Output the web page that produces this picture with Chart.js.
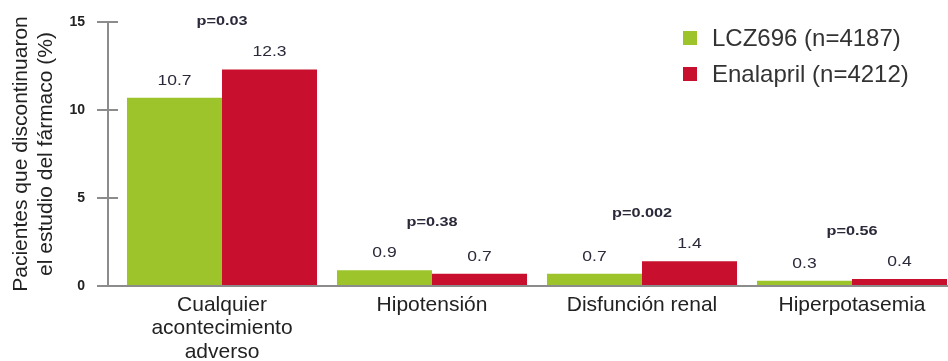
<!DOCTYPE html>
<html>
<head>
<meta charset="utf-8">
<script src="https://cdn.jsdelivr.net/npm/chart.js@4"></script>
<style>
  html, body { margin: 0; padding: 0; background: #fff; overflow: hidden; }
  #wrap { position: relative; width: 948px; height: 361px; overflow: hidden; }
  #legend { position: absolute; left: 683px; top: 20px; font-family: "Liberation Sans", Arial, sans-serif; font-size: 24px; color: #333; }
  .item { display: flex; align-items: center; height: 36px; }
  .box { width: 14px; height: 14px; margin-right: 15px; }
</style>
</head>
<body>
<div id="wrap">
  <canvas id="myChart" width="957" height="361"></canvas>
  <div id="legend"></div>
</div>
<script>
// data
const categories = [["Cualquier", "acontecimiento", "adverso"], "Hipotensión", "Disfunción renal", "Hiperpotasemia"];
const lczValues = [10.7, 0.9, 0.7, 0.3];
const enalaprilValues = [12.3, 0.7, 1.4, 0.4];
const pLabels = ["p=0.03", "p=0.38", "p=0.002", "p=0.56"];
const seriesNames = ["LCZ696 (n=4187)", "Enalapril (n=4212)"];
const seriesColors = ["#9dc42a", "#c8102e"];
const yTicks = [0, 5, 10, 15];

const FONT = '"Liberation Sans", Arial, sans-serif';

// legend (html, top right)
const legend = document.getElementById("legend");
seriesNames.forEach(function(name, i) {
  const item = document.createElement("div");
  item.className = "item";
  const box = document.createElement("span");
  box.className = "box";
  box.style.background = seriesColors[i];
  item.appendChild(box);
  item.appendChild(document.createTextNode(name));
  legend.appendChild(item);
});

// small text, a bit wider than the font gives
function wideText(ctx, text, x, y, sx) {
  ctx.save();
  ctx.translate(x, y);
  ctx.scale(sx, 1);
  ctx.fillText(text, 0, 0);
  ctx.restore();
}

// axis lines with crossing tick marks, value labels and p values
const extras = {
  id: "extras",
  afterDatasetsDraw(chart) {
    const ctx = chart.ctx;
    const y = chart.scales.y;
    const x = chart.scales.x;
    const axisX = chart.chartArea.left - 9;
    const zero = y.getPixelForValue(0);

    ctx.save();
    ctx.strokeStyle = "#8c8c8c";
    ctx.lineWidth = 2;
    ctx.beginPath();
    ctx.moveTo(axisX, y.getPixelForValue(yTicks[yTicks.length - 1]));
    ctx.lineTo(axisX, zero);
    ctx.lineTo(chart.width, zero);
    yTicks.forEach(function(t) {
      const py = y.getPixelForValue(t);
      ctx.moveTo(axisX - 11, py);
      ctx.lineTo(t === 0 ? axisX : axisX + 10, py);
    });
    ctx.stroke();

    // values over bars
    ctx.fillStyle = "#2a2a3a";
    ctx.textAlign = "center";
    ctx.textBaseline = "middle";
    ctx.font = "14px " + FONT;
    chart.data.datasets.forEach(function(ds, di) {
      chart.getDatasetMeta(di).data.forEach(function(bar, i) {
        wideText(ctx, String(ds.data[i]), bar.x, bar.y - 17, 1.25);
      });
    });

    // p values over each group
    ctx.font = "bold 13px " + FONT;
    pLabels.forEach(function(p, i) {
      const top = Math.max(lczValues[i], enalaprilValues[i]);
      wideText(ctx, p, x.getPixelForValue(i), y.getPixelForValue(top) - 48, 1.25);
    });
    ctx.restore();
  }
};

const ctx = document.getElementById("myChart").getContext("2d");
const chart = new Chart(ctx, {
  type: "bar",
  data: {
    labels: categories,
    datasets: [
      { label: seriesNames[0], data: lczValues, backgroundColor: seriesColors[0], barPercentage: 1, categoryPercentage: 0.905 },
      { label: seriesNames[1], data: enalaprilValues, backgroundColor: seriesColors[1], barPercentage: 1, categoryPercentage: 0.905 }
    ]
  },
  options: {
    responsive: false,
    animation: false,
    layout: { padding: { top: 22, right: 0, bottom: 0, left: 0 } },
    plugins: { legend: { display: false }, tooltip: { enabled: false } },
    scales: {
      x: {
        grid: { display: false, drawTicks: false },
        border: { display: false },
        ticks: { color: "#222", padding: 8, font: { family: FONT, size: 21, lineHeight: 1.1 }, maxRotation: 0, autoSkip: false },
        afterFit: function(s) { s.height = 75; }
      },
      y: {
        min: 0,
        max: 15,
        // invisible tick marks just push the labels away from the axis
        grid: { display: true, drawOnChartArea: false, drawTicks: true, tickLength: 30, color: "rgba(0,0,0,0)" },
        border: { display: false },
        ticks: { stepSize: 5, color: "#222", padding: 2, font: { family: FONT, size: 14, weight: "bold" } },
        title: {
          display: true,
          text: ["Pacientes que discontinuaron", "el estudio del fármaco (%)"],
          color: "#222",
          font: { family: FONT, size: 21, lineHeight: 1.22 },
          padding: { top: 8, bottom: 0 }
        },
        afterFit: function(s) { s.width = 117; }
      }
    }
  },
  plugins: [extras]
});
</script>
</body>
</html>
